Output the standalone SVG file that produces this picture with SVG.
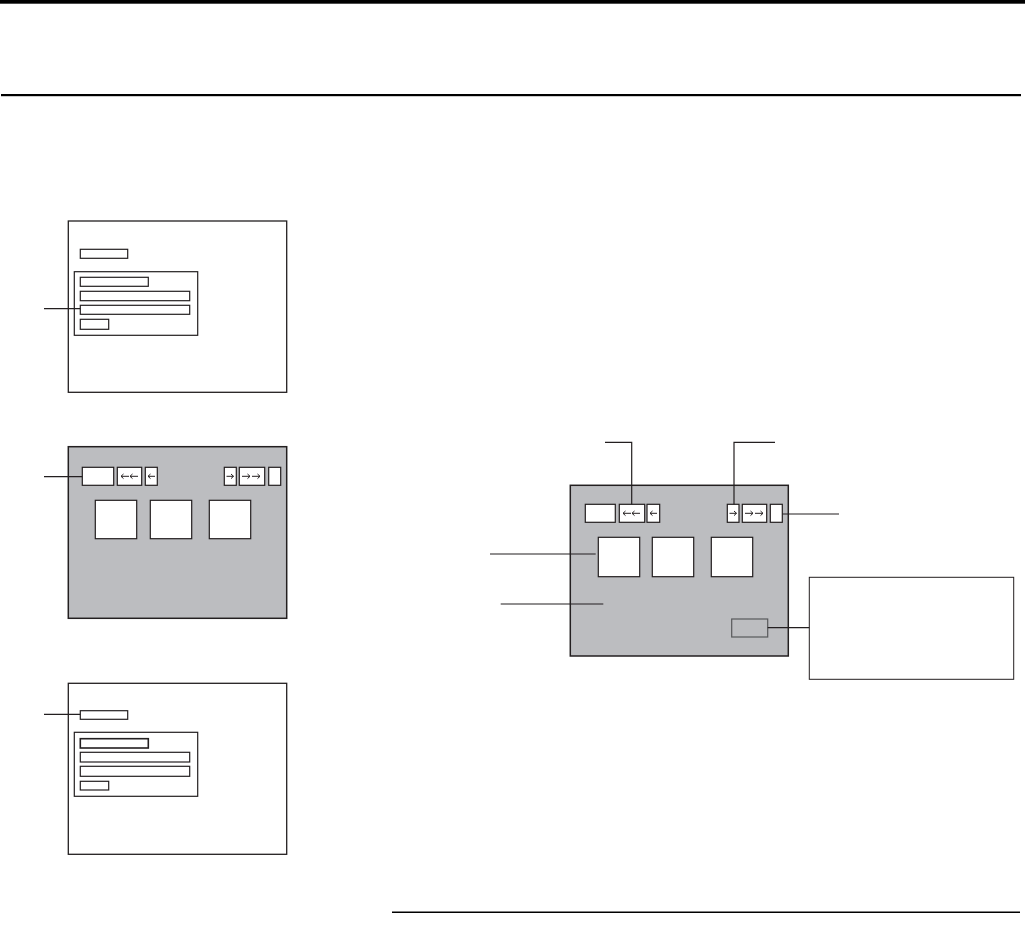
<svg xmlns="http://www.w3.org/2000/svg" width="1025" height="943" viewBox="0 0 1025 943">
<style>
.frame{fill:#fff;stroke:#231f20;stroke-width:1.3}
.screen{fill:#bcbdc0;stroke:#231f20;stroke-width:1.5}
.box{fill:#fff;stroke:#231f20;stroke-width:1.2}
.lead{fill:none;stroke:#231f20;stroke-width:1.2}
.arr{fill:none;stroke:#231f20;stroke-width:1}
</style>
<rect width="1025" height="943" fill="#fff"/>
<g id="rules">
<rect x="0" y="0" width="1025" height="3.7" fill="#000"/>
<rect x="1" y="94" width="1020" height="2.2" fill="#000"/>
<rect x="392" y="911.5" width="628" height="1.5" fill="#000"/>
</g>
<g id="panel1">
<rect class="frame" x="68.3" y="221" width="218.4" height="171.3"/>
<rect class="box" x="80.3" y="249.3" width="47.4" height="9"/>
<rect class="box" x="74.3" y="271.7" width="123.4" height="63.6"/>
<rect class="box" x="80.3" y="277.3" width="68" height="9"/>
<rect class="box" x="80.3" y="291.3" width="109.4" height="9.4"/>
<rect class="box" x="80.3" y="305.3" width="109.4" height="9"/>
<rect class="box" x="80.3" y="319.3" width="28.4" height="10"/>
</g>
<g id="panel2">
<rect class="screen" x="68.3" y="446.7" width="218.4" height="171.6"/>
<rect class="box" x="82.3" y="467.3" width="31.4" height="18"/>
<rect class="box" x="117.3" y="467.3" width="24.4" height="18"/>
<rect class="box" x="145.3" y="467.3" width="12" height="18"/>
<rect class="box" x="224.3" y="467.3" width="12" height="18"/>
<rect class="box" x="239.3" y="467.3" width="25.4" height="18"/>
<rect class="box" x="268.7" y="467.3" width="12" height="18"/>
<path class="arr" d="M121 476.3h8M123.5 474l-2.5 2.3 2.5 2.3M130 476.3h8M132.5 474l-2.5 2.3 2.5 2.3M148 476.3h7M150.5 474l-2.5 2.3 2.5 2.3M226.5 476.3h7M231 474l2.5 2.3-2.5 2.3M242 476.3h8M247.5 474l2.5 2.3-2.5 2.3M252 476.3h8M257.5 474l2.5 2.3-2.5 2.3"/>
<rect class="box" x="95.3" y="500.3" width="41.4" height="38.4"/>
<rect class="box" x="150.3" y="500.3" width="41.4" height="38.4"/>
<rect class="box" x="209.3" y="500.3" width="41.4" height="38.4"/>
</g>
<g id="panel3">
<rect class="frame" x="68.3" y="683.3" width="218.4" height="171"/>
<rect class="box" x="80.3" y="710.7" width="47.4" height="8.6"/>
<rect class="box" x="74.3" y="732.3" width="123.4" height="64"/>
<rect class="box" x="80.3" y="738.7" width="68" height="9.3" style="stroke-width:1.6"/>
<rect class="box" x="80.3" y="752.3" width="109.4" height="9.7"/>
<rect class="box" x="80.3" y="766.3" width="109.4" height="10"/>
<rect class="box" x="80.3" y="781.3" width="28.4" height="8.7"/>
</g>
<g id="mainScreen">
<rect class="screen" x="570.3" y="485.3" width="218" height="170.7"/>
<rect class="box" x="585.3" y="504.3" width="30" height="18"/>
<rect class="box" x="619.3" y="504.3" width="25.4" height="18"/>
<rect class="box" x="647" y="504.3" width="12.7" height="18"/>
<rect class="box" x="727.3" y="504.3" width="11.7" height="18"/>
<rect class="box" x="742.3" y="504.3" width="24.4" height="18"/>
<rect class="box" x="770.3" y="504.3" width="12" height="18"/>
<path class="arr" d="M623 513.3h8M625.5 511l-2.5 2.3 2.5 2.3M632 513.3h8M634.5 511l-2.5 2.3 2.5 2.3M650 513.3h7M652.5 511l-2.5 2.3 2.5 2.3M729.5 513.3h7M734 511l2.5 2.3-2.5 2.3M745 513.3h8M750.5 511l2.5 2.3-2.5 2.3M755 513.3h8M760.5 511l2.5 2.3-2.5 2.3"/>
<rect class="box" x="598.3" y="537.3" width="41.4" height="39.4"/>
<rect class="box" x="652.3" y="537.3" width="41.4" height="39.4"/>
<rect class="box" x="711.3" y="537.3" width="41.4" height="39.4"/>
<rect x="731.7" y="619" width="36" height="18" fill="#bcbdc0" stroke="#58595b" stroke-width="1.2"/>
</g>
<g id="callout">
<rect class="frame" x="809.3" y="577.3" width="204.4" height="102" style="stroke-width:1"/>
</g>
<g id="connectors">
<path class="lead" d="M44 308.7H80.3"/>
<path class="lead" d="M44 476.7H82.3"/>
<path class="lead" d="M44 714.3H80.3"/>
<path class="lead" d="M605 442.3H631.7V504.3"/>
<path class="lead" d="M775 442.3H734V504.3"/>
<path class="lead" d="M782.3 514H839"/>
<path class="lead" d="M490 554H595.7"/>
<path class="lead" d="M500.7 604H603.3"/>
<path class="lead" d="M767.7 627.7H809.3"/>
</g>
</svg>
